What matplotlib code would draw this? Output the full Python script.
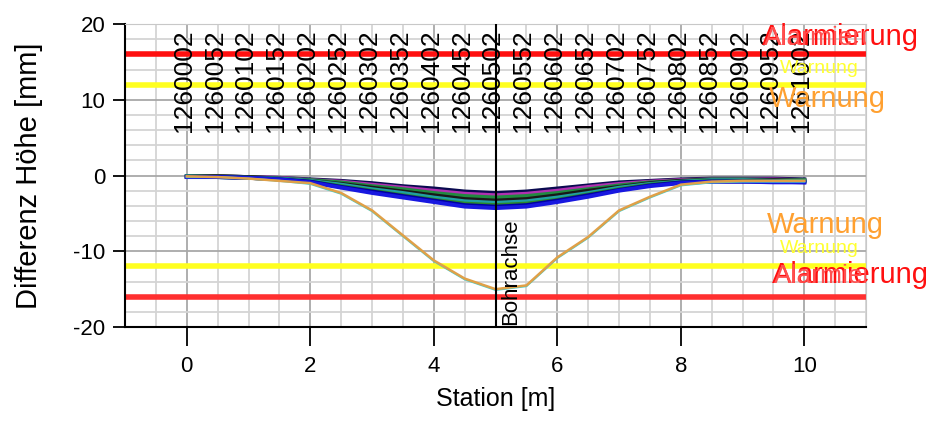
import numpy as np
import matplotlib.pyplot as plt
from matplotlib.ticker import MultipleLocator

plt.rcParams['font.family'] = ['Liberation Sans', 'DejaVu Sans']
plt.rcParams['axes.unicode_minus'] = False

# stations along the profile [m] and their point names
station = np.arange(0, 10.5, 0.5)
point_names = ["1260002", "1260052", "1260102", "1260152", "1260202", "1260252",
               "1260302", "1260352", "1260402", "1260452", "1260502", "1260552",
               "1260602", "1260652", "1260702", "1260752", "1260802", "1260852",
               "1260902", "1260952", "1261002"]

# height differences [mm] of the single measurement epochs
h_e1 = [-0.1, -0.1, -0.2, -0.3, -0.5, -0.7, -1.0, -1.4, -1.7, -2.1, -2.3, -2.1, -1.7, -1.3, -0.9, -0.7, -0.5, -0.4, -0.4, -0.4, -0.5]
h_e2 = [-0.1, -0.1, -0.2, -0.3, -0.6, -0.8, -1.2, -1.6, -2.0, -2.4, -2.6, -2.4, -2.0, -1.5, -1.1, -0.8, -0.6, -0.5, -0.5, -0.5, -0.6]
h_e3 = [-0.1, -0.1, -0.2, -0.4, -0.6, -0.9, -1.4, -1.8, -2.3, -2.7, -2.9, -2.7, -2.3, -1.8, -1.3, -0.9, -0.7, -0.5, -0.5, -0.6, -0.6]
h_e4 = [-0.1, -0.1, -0.2, -0.4, -0.7, -1.1, -1.6, -2.1, -2.6, -3.1, -3.3, -3.1, -2.6, -2.0, -1.5, -1.0, -0.7, -0.6, -0.6, -0.6, -0.7]
h_e5 = [-0.1, -0.2, -0.3, -0.4, -0.7, -1.2, -1.8, -2.3, -2.9, -3.4, -3.6, -3.4, -2.9, -2.3, -1.6, -1.1, -0.8, -0.6, -0.6, -0.7, -0.7]
h_e6 = [-0.2, -0.2, -0.3, -0.5, -0.8, -1.4, -2.0, -2.6, -3.2, -3.7, -3.9, -3.7, -3.2, -2.5, -1.8, -1.2, -0.9, -0.7, -0.7, -0.8, -0.8]
h_e7 = [-0.2, -0.2, -0.3, -0.5, -0.8, -1.5, -2.1, -2.7, -3.3, -3.9, -4.1, -3.9, -3.3, -2.6, -1.9, -1.3, -0.9, -0.8, -0.8, -0.8, -0.9]
h_e8 = [-0.2, -0.2, -0.3, -0.5, -0.9, -1.6, -2.3, -2.9, -3.5, -4.1, -4.3, -4.1, -3.5, -2.8, -2.0, -1.4, -1.0, -0.8, -0.8, -0.9, -0.9]
h_last_cyan = [-0.2, -0.2, -0.4, -0.7, -1.1, -2.4, -4.7, -8.0, -11.3, -13.7, -15.1, -14.6, -10.9, -8.2, -4.7, -2.9, -1.3, -0.9, -0.8, -0.8, -0.8]
h_last = [-0.1, -0.2, -0.4, -0.7, -1.0, -2.3, -4.6, -7.9, -11.2, -13.6, -15.0, -14.5, -10.8, -8.1, -4.6, -2.8, -1.2, -0.8, -0.7, -0.7, -0.7]

# limits [mm]
alarm = 16
warn = 12
bohrachse = 5.0

fig = plt.figure(figsize=(9.31, 4.22), dpi=100)
ax = fig.add_axes([0.1343, 0.225, 0.7960, 0.718])
ax.set_xlim(-1, 11)
ax.set_ylim(-20, 20)

ax.xaxis.set_major_locator(MultipleLocator(2))
ax.xaxis.set_minor_locator(MultipleLocator(0.5))
ax.yaxis.set_major_locator(MultipleLocator(10))
ax.yaxis.set_minor_locator(MultipleLocator(2))
ax.grid(which='minor', color='#d4d4d4', lw=1.3)
ax.grid(which='major', color='#a8a8a8', lw=1.3)
ax.set_axisbelow(True)
ax.tick_params(which='minor', length=0)
ax.tick_params(axis='x', which='major', direction='out', length=14, width=1.3,
               pad=7, labelsize=16)
ax.tick_params(axis='y', which='major', direction='out', length=9, width=1.3,
               pad=5, labelsize=16)
for s in ['top', 'right']:
    ax.spines[s].set_color('#c8c8c8')
for s in ['left', 'bottom']:
    ax.spines[s].set_linewidth(1.5)

# limit lines
for v, c in [(alarm, '#ff1010'), (-alarm, '#ff3030'), (warn, '#ffff20'), (-warn, '#ffff20')]:
    ax.axhline(v, color=c, lw=4, zorder=2)

# epochs
epochs = [(h_e1, '#0a0a50'), (h_e2, '#b030b0'), (h_e3, '#208a40'), (h_e4, '#181818'),
          (h_e5, '#20a0a0'), (h_e6, '#2a8a2a'), (h_e7, '#0000a0'), (h_e8, '#1818e0')]
for vals, c in epochs:
    ax.plot(station, vals, color=c, lw=2.8, zorder=3)
ax.plot(station, h_last_cyan, color='#40d0d0', lw=1.5, zorder=3)
ax.plot(station, h_last, color='#e0a048', lw=1.8, zorder=3)

# drill axis
ax.axvline(bohrachse, color='black', lw=1.5, zorder=4)
ax.text(bohrachse + 0.08, -19.7, "Bohrachse", rotation=90, ha='left', va='bottom',
        fontsize=16, zorder=5)

# station labels
for xs, name in zip(station, point_names):
    ax.text(xs - 0.05, 19.3, name, rotation=90, ha='center', va='top',
            fontsize=19, zorder=5)

# limit labels
ax.text(9.32, 17.2, "Alarmierung", color='#ff1010', fontsize=21, clip_on=False, zorder=6)
ax.text(9.34, 17.2, "Alarmierung", color='#ff5050', fontsize=19, clip_on=True, zorder=6)
ax.text(9.6, 13.6, "Warnung", color='#ffff30', fontsize=14, clip_on=True, zorder=6)
ax.text(9.43, 9.0, "Warnung", color='#ffa030', fontsize=21, clip_on=False, zorder=6)
ax.text(9.40, -7.6, "Warnung", color='#ffa030', fontsize=21, clip_on=False, zorder=6)
ax.text(9.6, -10.2, "Warnung", color='#ffff30', fontsize=14, clip_on=True, zorder=6)
ax.text(9.48, -14.2, "Alarmierung", color='#ff1010', fontsize=21, clip_on=False, zorder=6)
ax.text(9.50, -14.2, "Alarmierung", color='#ff5050', fontsize=19, clip_on=True, zorder=6)

ax.set_xlabel("Station [m]", fontsize=18, labelpad=7)
ax.set_ylabel("Differenz Höhe [mm]", fontsize=21, labelpad=22)

fig.savefig("out.png", dpi=100)
